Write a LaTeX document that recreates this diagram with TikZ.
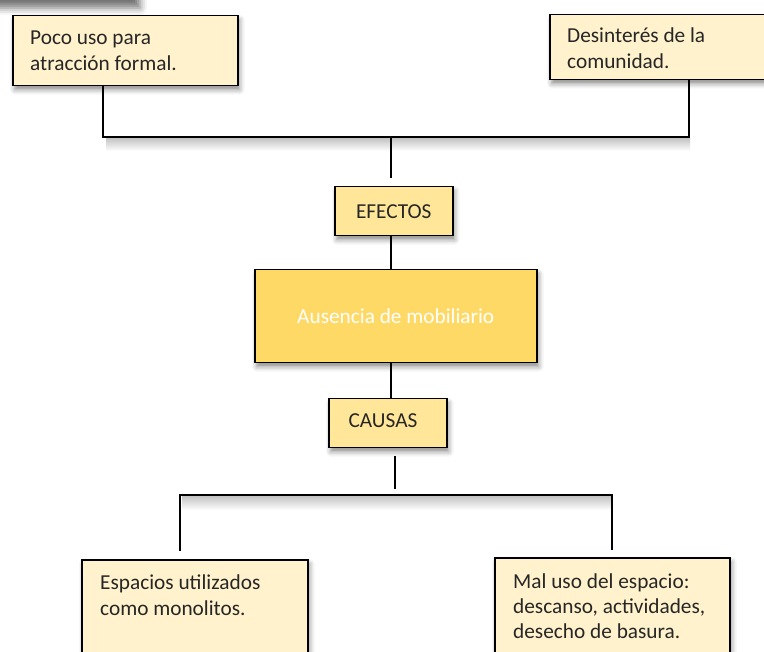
\documentclass[tikz,border=0pt]{standalone}
\usepackage{fontspec}
\setmainfont{Carlito}
\usetikzlibrary{shadows.blur}
\definecolor{pale}{HTML}{FFF2CC}
\definecolor{mid}{HTML}{FFE699}
\definecolor{gold}{HTML}{FFD966}
\definecolor{ink}{HTML}{262626}
\tikzset{
  box/.style={draw=black, line width=1.5pt, inner sep=0pt,
    blur shadow={shadow xshift=2pt, shadow yshift=-4pt, shadow blur radius=5pt, shadow opacity=45}},
  cornerbox/.style={box, anchor=north west},
  txt/.style={anchor=base west, inner sep=0pt, text=ink, font=\fontsize{21.3}{25.5}\selectfont},
  lbl/.style={text=ink, font=\fontsize{21.3}{25.5}\selectfont},
  conn/.style={line width=1.8pt},
  lineshadow/.style={top color=black!22, bottom color=white, draw=none}
}
\begin{document}
\begin{tikzpicture}[x=1pt,y=-1pt]
\useasboundingbox (0,0) rectangle (764,652);
\clip (0,0) rectangle (764,652);

% shadow of a box cut off above the picture
\fill[white, blur shadow={shadow xshift=4pt, shadow yshift=-14pt, shadow blur radius=7pt, shadow opacity=55}] (-40,-80) rectangle (136,-6);

% line shadows
\shade[lineshadow] (106,139) rectangle (690,151);
\shade[lineshadow] (182,497) rectangle (612,510);

% boxes
\node[cornerbox, fill=pale, minimum width=225pt, minimum height=70pt] (b1) at (12,15) {};
\node[cornerbox, fill=pale, minimum width=235pt, minimum height=65pt] (b2) at (549,14) {};
\node[cornerbox, fill=mid, minimum width=118pt, minimum height=49pt, lbl] (ef) at (334,186) {EFECTOS};
\node[cornerbox, fill=gold, minimum width=282pt, minimum height=93pt, lbl, text=white] (main) at (254,269) {Ausencia de mobiliario};
\node[cornerbox, fill=mid, minimum width=118pt, minimum height=49pt] (ca) at (328,398) {};
\node[cornerbox, fill=pale, minimum width=226pt, minimum height=130pt] (b3) at (81,559) {};
\node[cornerbox, fill=pale, minimum width=235pt, minimum height=130pt] (b4) at (494,557) {};

% texts
\node[txt] (t1) at (30,45) {\parbox[t]{205pt}{Poco uso para\\atracción formal.}};
\node[txt] (t2) at (567,43) {\parbox[t]{200pt}{Desinterés de la\\comunidad.}};
\node[lbl, anchor=base, inner sep=0pt] (tca) at (383,428) {CAUSAS};
\node[txt] (t3) at (100,590) {\parbox[t]{205pt}{Espacios utilizados\\como monolitos.}};
\node[txt] (t4) at (513,588) {\parbox[t]{215pt}{Mal uso del espacio:\\descanso, actividades,\\desecho de basura.}};

% connectors (effects)
\coordinate (jt) at (391,137);
\draw[conn] (103,0 |- b1.south) |- (689,137) -- (689,0 |- b2.south);
\draw[conn] (jt) -- ([yshift=8pt]391,0 |- ef.north);
\draw[conn] (391,0 |- ef.south) -- (391,0 |- main.north);
% connectors (causes)
\draw[conn] (391,0 |- main.south) -- (391,0 |- ca.north);
\coordinate (jb) at (395,495);
\draw[conn] ([yshift=-8pt]395,0 |- ca.south) -- ([yshift=6pt]jb);
\draw[conn] ([yshift=8pt]180,0 |- b3.north) |- (612,495) -- ([yshift=7pt]612,0 |- b4.north);
\end{tikzpicture}
\end{document}
